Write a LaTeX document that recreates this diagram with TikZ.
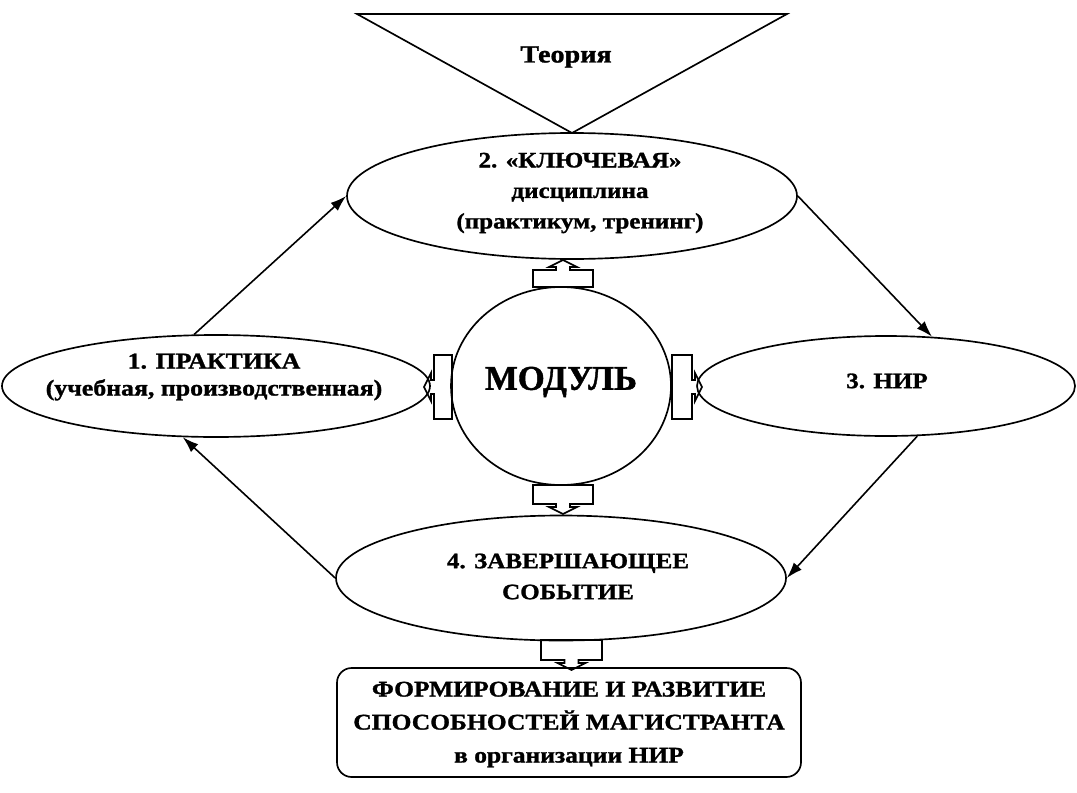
\documentclass[tikz,border=0pt]{standalone}
\usepackage{fontspec}
\setmainfont{Liberation Serif}[FakeStretch=1.14, BoldFeatures={FakeBold=1.2}]
\newfontfamily\plainserif{Liberation Serif}[BoldFeatures={FakeBold=1.2}]
\usetikzlibrary{shapes.geometric,arrows.meta}
\begin{document}
\begin{tikzpicture}[x=0.75pt,y=-0.75pt,
  shp/.style={draw, line width=1.25pt, fill=white, inner sep=0pt},
  ell/.style={shp, ellipse},
  txt/.style={inner sep=0pt, align=center, font=\bfseries\fontsize{16.5}{22.9}\selectfont},
  arr/.style={line width=1.2pt, -{Latex[length=12pt,width=8pt]}},
  blk/.style={draw, line width=1.25pt, line join=miter}]
\useasboundingbox (0,0) rectangle (1077,792);
% theory triangle
\draw[line width=1.25pt] (357,14) -- (787,14) -- (572,133) -- cycle;
\node[txt, font=\bfseries\fontsize{18.5}{22}\selectfont] (teor) at (566,57) {Теория};
% shapes
\node[ell, minimum width=337.5pt, minimum height=94.5pt] (key) at (572,196) {};
\node[ell, minimum width=321pt, minimum height=76.5pt] (prak) at (216,386) {};
\node[ell, minimum width=283.5pt, minimum height=75pt] (nir) at (886,386) {};
\node[ell, minimum width=165pt, minimum height=148.5pt] (mod) at (561,386) {};
\node[ell, minimum width=337.5pt, minimum height=93.75pt] (zav) at (561,578) {};
\node[shp, rounded corners=11pt, minimum width=348pt, minimum height=81.75pt] (res) at (569,722.5) {};
% texts
\node[txt] (keyt) at (580,193) {2. «КЛЮЧЕВАЯ»\\дисциплина\\(практикум, тренинг)};
\node[txt, font=\bfseries\fontsize{17}{20.25}\selectfont] (prakt) at (214,377) {1. ПРАКТИКА\\(учебная, производственная)};
\node[txt] (nirt) at (887,381) {3. НИР};
\node[txt, font=\plainserif\bfseries\fontsize{26}{30}\selectfont] (modt) at (561,382) {МОДУЛЬ};
\node[txt, font=\bfseries\fontsize{16.5}{23.25}\selectfont] (zavt) at (568,576.5) {4. ЗАВЕРШАЮЩЕЕ\\СОБЫТИЕ};
\node[txt, font=\bfseries\fontsize{16.8}{24.75}\selectfont] (rest) at (569,724.5) {ФОРМИРОВАНИЕ И РАЗВИТИЕ\\СПОСОБНОСТЕЙ МАГИСТРАНТА\\в организации НИР};
% cycle arrows
\draw[arr] (prak.113) -- (key.west);
\draw[arr] (key.east) -- (nir.47);
\draw[arr] (nir.302) -- (zav.east);
\draw[arr] (zav.west) -- (prak.237);
% block arrows: #1 center, #2 rotation, #3 half-width across, #4 half-length along
\newcommand{\blockarr}[4]{%
  \draw[blk, shift={#1}, rotate=#2] (-#3,-#4) -- (#3,-#4) -- (#3,#4) -- (7,#4) -- (7,#4+3) -- (14,#4+3) -- (0,#4+10) -- (-14,#4+3) -- (-7,#4+3) -- (-7,#4) -- (-#3,#4) -- cycle;}
\blockarr{(563,278.5)}{180}{30}{8.5}
\blockarr{(443,387)}{-90}{32}{9}
\blockarr{(682,387)}{90}{32}{10}
\blockarr{(563,494.5)}{0}{30}{9.5}
\blockarr{(571.5,650)}{0}{30.5}{10}
\end{tikzpicture}
\end{document}
